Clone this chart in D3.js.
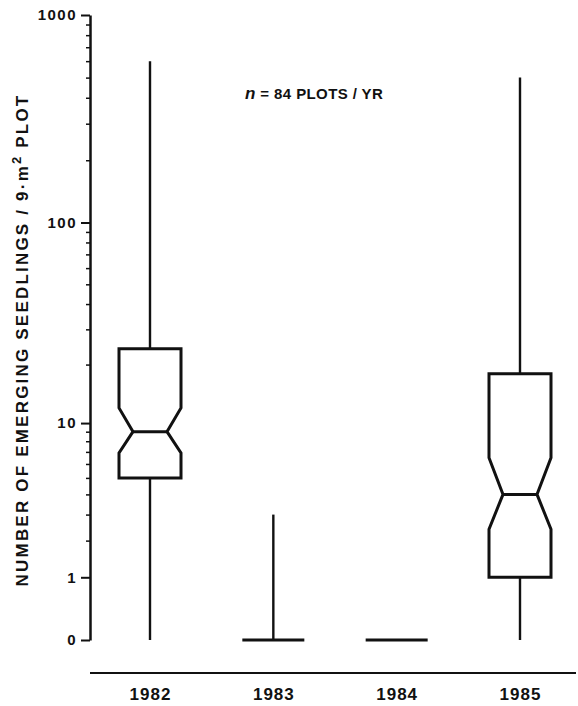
<!doctype html>
<html lang="en">
<head>
  <meta charset="UTF-8">
  <title>Emerging seedlings</title>
  <script src="https://d3js.org/d3.v7.min.js" charset="utf-8"></script>
  <style>
    body { margin: 0; background: #fff; }
    text { font-family: "Liberation Sans", Arial, sans-serif; font-weight: bold; fill: #111; }
  </style>
</head>
<body>
  <script>

    var years    = ["1982", "1983", "1984", "1985"]
      , mins     = [0, 0, 0, 0]
      , q1s      = [5, 0, 0, 1]
      , notchLos = [6.9, 0, 0, 2.4]
      , medians  = [9, 0, 0, 4]
      , notchHis = [12, 0, 0, 6.5]
      , q3s      = [24, 0, 0, 18]
      , maxs     = [600, 3, 0, 500]
      ;

    var majorTicks = [0, 1, 10, 100, 1000]
      , minorTicks = [2, 3, 4, 5, 6, 7, 8, 9,
                      20, 30, 40, 50, 60, 70, 80, 90,
                      200, 300, 400, 500, 600, 700, 800, 900]
      ;

    var width = 578, height = 706;

    var svg = d3.select("body").append("svg")
      .attr("width", width)
      .attr("height", height);

    // log(1 + n) axis
    var y = d3.scaleSymlog().constant(1)
      .domain([0, 1000])
      .range([640, 15]);

    var x = d3.scalePoint()
      .domain(years)
      .range([150, 520]);

    var axisX = 90;

    // minor ticks
    svg.append("g")
      .attr("transform", "translate(" + axisX + ",0)")
      .call(d3.axisLeft(y).tickValues(minorTicks).tickSize(4).tickFormat(""))
      .call(function (g) { g.select(".domain").remove(); })
      .selectAll("line").attr("stroke", "#111").attr("stroke-width", 1.5);

    // major ticks + domain
    var yAxis = svg.append("g")
      .attr("transform", "translate(" + axisX + ",0)")
      .call(d3.axisLeft(y).tickValues(majorTicks).tickSize(9).tickSizeOuter(0).tickPadding(4).tickFormat(d3.format("d")));

    yAxis.select(".domain").attr("stroke", "#111").attr("stroke-width", 2.5);
    yAxis.selectAll(".tick line").attr("stroke", "#111").attr("stroke-width", 2);
    yAxis.selectAll(".tick text")
      .style("font-size", "15px")
      .style("letter-spacing", "1.5px")
      .attr("fill", "#111");

    // x axis
    var xAxis = svg.append("g")
      .attr("transform", "translate(0,673)")
      .call(d3.axisBottom(x).tickSize(0).tickPadding(15));
    xAxis.select(".domain").remove();
    xAxis.selectAll(".tick text")
      .style("font-size", "17px")
      .style("letter-spacing", "1px")
      .attr("fill", "#111");

    svg.append("line")
      .attr("x1", 90).attr("x2", 576)
      .attr("y1", 673).attr("y2", 673)
      .attr("stroke", "#111").attr("stroke-width", 2);

    // boxes
    var halfW = 31, inset = 14;

    var boxes = svg.append("g")
      .attr("fill", "none")
      .attr("stroke", "#111")
      .attr("stroke-linejoin", "miter");

    years.forEach(function (yr, i) {
      var cx = x(yr);

      if (maxs[i] > q3s[i]) {
        boxes.append("line")
          .attr("x1", cx).attr("x2", cx)
          .attr("y1", y(q3s[i])).attr("y2", y(maxs[i]))
          .attr("stroke-width", 2.4);
      }
      if (q1s[i] > mins[i]) {
        boxes.append("line")
          .attr("x1", cx).attr("x2", cx)
          .attr("y1", y(mins[i])).attr("y2", y(q1s[i]))
          .attr("stroke-width", 2.4);
      }

      if (q3s[i] === q1s[i]) {
        boxes.append("line")
          .attr("x1", cx - halfW).attr("x2", cx + halfW)
          .attr("y1", y(medians[i])).attr("y2", y(medians[i]))
          .attr("stroke-width", 3);
        return;
      }

      var l = cx - halfW, r = cx + halfW;
      var pts = [
        [l, y(q3s[i])], [r, y(q3s[i])],
        [r, y(notchHis[i])], [r - inset, y(medians[i])], [r, y(notchLos[i])],
        [r, y(q1s[i])], [l, y(q1s[i])],
        [l, y(notchLos[i])], [l + inset, y(medians[i])], [l, y(notchHis[i])]
      ];
      boxes.append("path")
        .attr("d", d3.line()(pts) + "Z")
        .attr("stroke-width", 3);

      boxes.append("line")
        .attr("x1", l + inset).attr("x2", r - inset)
        .attr("y1", y(medians[i])).attr("y2", y(medians[i]))
        .attr("stroke-width", 3);
    });

    // y title
    var title = svg.append("text")
      .attr("transform", "translate(28,340) rotate(-90)")
      .attr("text-anchor", "middle")
      .style("font-size", "17px")
      .style("letter-spacing", "2.2px");
    title.append("tspan").text("NUMBER OF EMERGING SEEDLINGS / 9\u00b7m");
    title.append("tspan").attr("dy", -7).style("font-size", "13px").text("2");
    title.append("tspan").attr("dy", 7).text(" PLOT");

    // sample size note
    var note = svg.append("text")
      .attr("x", 245)
      .attr("y", 99)
      .style("font-size", "15px")
      .style("letter-spacing", "0.4px")
      .attr("xml:space", "preserve");
    note.append("tspan").style("font-style", "italic").style("font-size", "17px").text("n");
    note.append("tspan").text(" = 84 PLOTS / YR");

  </script>
</body>
</html>
